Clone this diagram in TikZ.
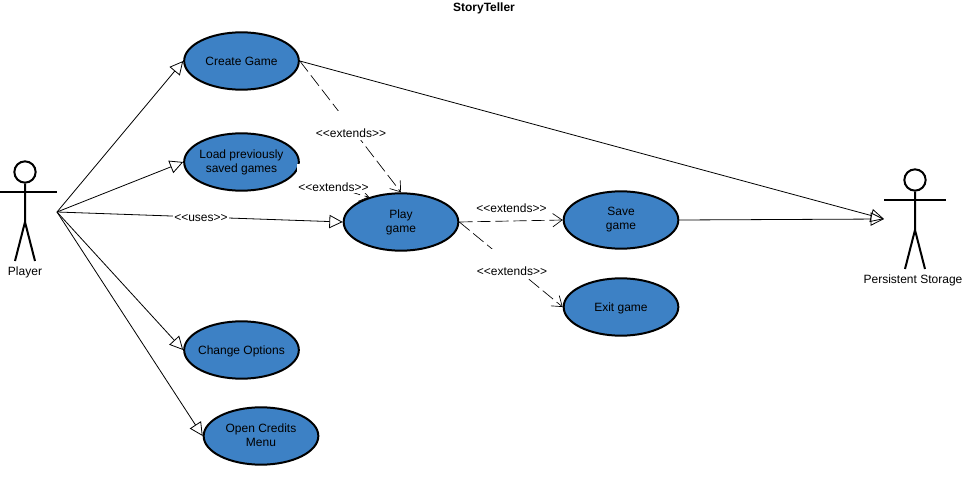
\documentclass[tikz,border=0pt]{standalone}
\usepackage{fontspec}
\setmainfont{Liberation Sans}
\usetikzlibrary{arrows.meta,shapes.geometric}
\definecolor{cCase}{RGB}{61,129,197}
\newcommand{\stereo}[1]{{<}{<}#1{>}{>}}
\begin{document}
\begin{tikzpicture}[
   x=0.75pt,y=-0.75pt,
   font=\fontsize{9}{10.5}\selectfont,
   usecase/.style={draw,ellipse,fill=cCase,line width=1.5pt,minimum width=86pt,minimum height=43pt,inner ysep=0pt,inner xsep=-12pt,align=center,execute at begin node={\rule[-2pt]{0pt}{10.3pt}}},
   usecasetwo/.style={usecase,execute at begin node={\rule[-2pt]{0pt}{13.5pt}}},
   stick/.style={line width=1.5pt},
   gen/.style={line width=0.6pt,-{Triangle[open,length=10pt,width=10pt]}},
   ext/.style={line width=0.5pt,dash pattern=on 10pt off 3.5pt,-{Straight Barb[length=7pt,width=10pt]}},
   lbl/.style={fill=white,inner ysep=0pt,inner xsep=1pt,text height=20pt,text depth=1.5pt,anchor=base}]
  \useasboundingbox (0,0) rectangle (968,478);
  \node[font=\fontsize{9}{10.5}\selectfont\bfseries] (title) at (484,8) {StoryTeller};
  % use cases
  \node[usecase] (create) at (241.5,61) {Create Game};
  \node[usecasetwo] (load) at (241.5,162) {Load previously\\saved games};
  \node[usecasetwo] (play) at (401,222) {Play\\game};
  \node[usecasetwo] (save) at (621,220) {Save\\game};
  \node[usecase] (exit) at (621,307) {Exit game};
  \node[usecase] (options) at (241.5,350) {Change Options};
  \node[usecasetwo] (credits) at (261,436) {Open Credits\\Menu};
  % actors
  \node[draw,circle,stick,minimum size=16pt,inner sep=0pt] (playerHead) at (25,172) {};
  \draw[stick] (0,192) -- (57,192);
  \draw[stick] (playerHead) -- (25,222) -- (15,261);
  \draw[stick] (25,222) -- (35,261);
  \node (player) at (25,272) {Player};
  \node[draw,circle,stick,minimum size=16pt,inner sep=0pt] (storeHead) at (915,180) {};
  \draw[stick] (884,200) -- (946,200);
  \draw[stick] (storeHead) -- (915,230) -- (905,269);
  \draw[stick] (915,230) -- (925,269);
  \node (store) at (913,280) {Persistent Storage};
  \coordinate (playerHand) at (57,212);
  \coordinate (storeHand) at (884,219);
  % connectors
  \foreach \uc in {create,load,options,credits}
    \draw[gen] (playerHand) -- (\uc.west);
  \draw[gen] (playerHand) -- (play.west);
  \draw[gen] (create.east) -- (storeHand);
  \draw[gen] (save.east) -- (storeHand);
  \draw[ext] (create.east) -- (play.north);
  \draw[ext] (load.-4) to[out=-25,in=167] (play.142);
  \draw[ext] (play.east) -- (save.west);
  \draw[ext] (play.east) -- (exit.west);
  % labels
  \node[lbl] (lblCreate) at (351,137.5) {\stereo{extends}};
  \node[lbl] (lblLoad) at (333.5,191) {\stereo{extends}};
  \node[lbl] (lblUses) at (201,221) {\stereo{uses}};
  \node[lbl] (lblSave) at (511.5,212) {\stereo{extends}};
  \node[lbl] (lblExit) at (512,275.5) {\stereo{extends}};
\end{tikzpicture}
\end{document}
